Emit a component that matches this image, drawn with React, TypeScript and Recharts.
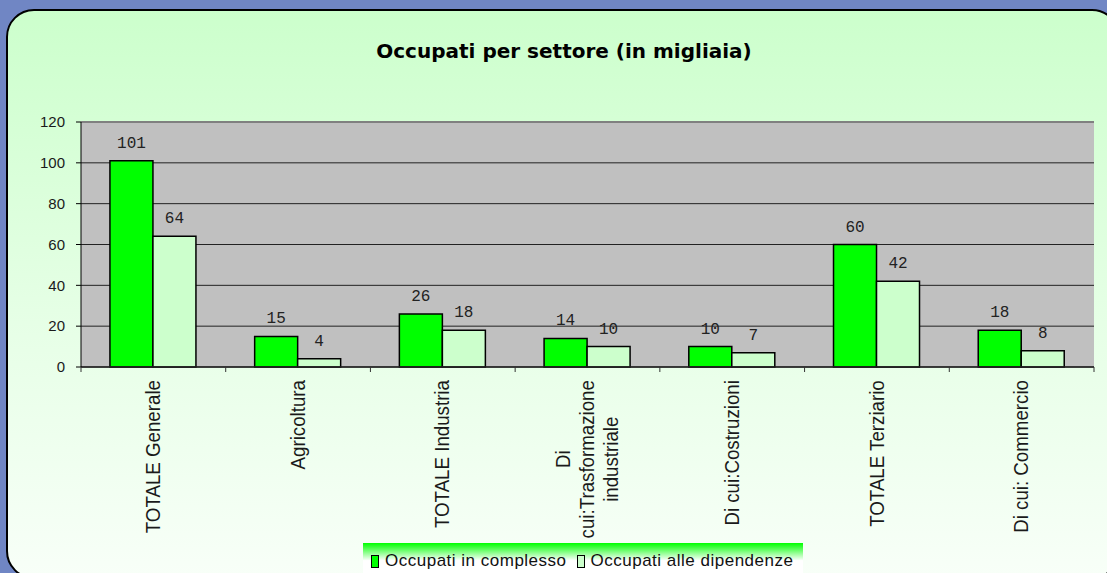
import {
  BarChart,
  Bar,
  XAxis,
  YAxis,
  CartesianGrid,
  LabelList,
  ReferenceLine,
} from "recharts";

const categories = [
  "TOTALE Generale",
  "Agricoltura",
  "TOTALE Industria",
  "Di cui:Trasformazione industriale",
  "Di cui:Costruzioni",
  "TOTALE Terziario",
  "Di cui: Commercio",
];
const occupatiComplesso = [101, 15, 26, 14, 10, 60, 18];
const occupatiDipendenze = [64, 4, 18, 10, 7, 42, 8];
const yTicks = [0, 20, 40, 60, 80, 100, 120];

const seriesNames = ["Occupati in complesso", "Occupati alle dipendenze"];
const title = "Occupati per settore (in migliaia)";

const data = categories.map((name, i) => ({
  name,
  complesso: occupatiComplesso[i],
  dipendenze: occupatiDipendenze[i],
}));

const LABEL_FONT = "18px 'Liberation Sans'";
let ctx: CanvasRenderingContext2D | null = null;
const measure = (s: string) => {
  if (!ctx) ctx = document.createElement("canvas").getContext("2d");
  if (!ctx) return s.length * 9;
  ctx.font = LABEL_FONT;
  return ctx.measureText(s).width;
};

// wrap category names the way the original sheet did
const wrap = (s: string, max = 165) => {
  const words = s.split(" ");
  const lines: string[] = [];
  let cur = "";
  words.forEach((w) => {
    const next = cur ? cur + " " + w : w;
    if (cur && measure(next) > max) {
      lines.push(cur);
      cur = w;
    } else cur = next;
  });
  if (cur) lines.push(cur);
  return lines;
};

const CategoryTick = (props: any) => {
  const { x, y, payload, index } = props;
  const half = payload.offset ?? 0;
  const lines = wrap(payload.value);
  const longest = Math.max(...lines.map(measure)) * 1.04;
  const cy = y + 13 + longest / 2;
  const idx = payload.index ?? index;
  return (
    <g>
      <line x1={x - half} x2={x - half} y1={y} y2={y + 5} stroke="#333" />
      {idx === categories.length - 1 && (
        <line x1={x + half} x2={x + half} y1={y} y2={y + 5} stroke="#333" />
      )}
      {lines.map((l, i) => (
        <text
          key={i}
          transform={`translate(${x + (i - (lines.length - 1) / 2) * 24}, ${cy}) rotate(-90) scale(1.04,1.1)`}
          textAnchor="middle"
          dominantBaseline="central"
          fontFamily="'Liberation Sans', Arial, sans-serif"
          fontSize={18}
          fill="#1a1a1a"
        >
          {l}
        </text>
      ))}
    </g>
  );
};

export default function App() {
  return (
    <div
      style={{
        position: "relative",
        width: 1107,
        height: 573,
        overflow: "hidden",
        background: "#7086c4",
      }}
    >
      <style>{`body{margin:0}`}</style>
      <div
        style={{
          position: "absolute",
          left: 6,
          top: 9,
          width: 1110,
          height: 566,
          border: "2px solid #000",
          borderRadius: 28,
          background: "linear-gradient(#ccffcc, #e6ffe6 55%, #f8fff8)",
        }}
      />
      <div
        style={{
          position: "absolute",
          left: 0,
          width: 1128,
          top: 39,
          textAlign: "center",
          fontFamily: "'DejaVu Sans', sans-serif",
          fontWeight: "bold",
          fontSize: 20,
          color: "#000",
        }}
      >
        {title}
      </div>
      <div style={{ position: "absolute", left: 0, top: 0 }}>
        <BarChart
          width={1107}
          height={573}
          data={data}
          margin={{ top: 122, right: 13, left: 0, bottom: 0 }}
          barCategoryGap="20%"
          barGap={0}
        >
          <CartesianGrid
            vertical={false}
            fill="#c0c0c0"
            fillOpacity={1}
            stroke="#222"
            strokeWidth={1}
          />
          <XAxis
            dataKey="name"
            height={206}
            interval={0}
            tickLine={false}
            tickSize={0}
            tickMargin={0}
            axisLine={{ stroke: "#222", strokeWidth: 1.5 }}
            tick={<CategoryTick />}
          />
          <YAxis
            width={81}
            domain={[0, 120]}
            ticks={yTicks}
            interval={0}
            tickSize={5}
            tickMargin={11}
            axisLine={{ stroke: "#000" }}
            tickLine={{ stroke: "#000" }}
            tick={{
              fill: "#1a1a1a",
              fontSize: 15,
              fontFamily: "'Liberation Sans', Arial, sans-serif",
            }}
          />
          <YAxis
            yAxisId="edge"
            orientation="right"
            width={0}
            tick={false}
            tickLine={false}
            axisLine={{ stroke: "#808080", strokeWidth: 2 }}
          />
          <ReferenceLine y={120} stroke="#808080" strokeWidth={2} />
          <Bar
            dataKey="complesso"
            name={seriesNames[0]}
            fill="#00ff00"
            stroke="#000"
            strokeWidth={1.5}
            isAnimationActive={false}
          >
            <LabelList
              dataKey="complesso"
              position="top"
              offset={13}
              fill="#222"
              fontSize={16}
              fontFamily="'Liberation Mono', monospace"
            />
          </Bar>
          <Bar
            dataKey="dipendenze"
            name={seriesNames[1]}
            fill="#ccffcc"
            stroke="#000"
            strokeWidth={1.5}
            isAnimationActive={false}
          >
            <LabelList
              dataKey="dipendenze"
              position="top"
              offset={13}
              fill="#222"
              fontSize={16}
              fontFamily="'Liberation Mono', monospace"
            />
          </Bar>
        </BarChart>
      </div>
      <div
        style={{
          position: "absolute",
          left: 363,
          top: 543,
          width: 440,
          height: 32,
          background: "linear-gradient(#00ff00, #ffffff 55%)",
          display: "flex",
          alignItems: "center",
          paddingTop: 4,
          boxSizing: "border-box",
          fontFamily: "'Liberation Sans', Arial, sans-serif",
          fontSize: 17,
          letterSpacing: 0.5,
          color: "#111",
        }}
      >
        {seriesNames.map((n, i) => (
          <div key={n} style={{ display: "flex", alignItems: "center", marginLeft: i === 0 ? 8 : 10 }}>
            <span
              style={{
                display: "inline-block",
                width: 6,
                height: 11,
                border: "1px solid #000",
                background: i === 0 ? "#00ff00" : "#ccffcc",
                marginRight: 6,
              }}
            />
            {n}
          </div>
        ))}
      </div>
    </div>
  );
}
